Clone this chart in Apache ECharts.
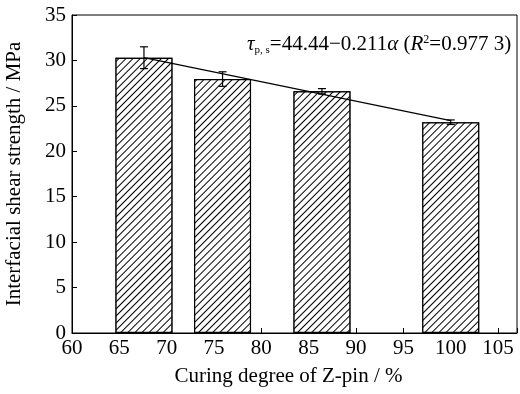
<!DOCTYPE html>
<html><head><meta charset="utf-8">
<script src="https://cdn.jsdelivr.net/npm/echarts@6/dist/echarts.min.js"></script>
<style>html,body{margin:0;padding:0;background:#fff}#c{width:520px;height:394px}</style>
</head><body><div id="c"></div>
<script>
const curing = [67.6, 75.9, 86.4, 100];
const strength = [30.3, 27.95, 26.6, 23.2];
const errors = [1.2, 0.8, 0.3, 0.25];
const fitX = [67.6, 100];
const fitY = [30.3, 23.37];
const xTicks = [60, 65, 70, 75, 80, 85, 90, 95, 100, 105];
const yTicks = [0, 5, 10, 15, 20, 25, 30, 35];

const font = 'Liberation Serif';
const chart = echarts.init(document.getElementById('c'));
const barData = curing.map((x, i) => [x, strength[i]]);
const errData = curing.map((x, i) => [x, strength[i] - errors[i], strength[i] + errors[i]]);
const fitData = fitX.map((x, i) => [x, fitY[i]]);

chart.setOption({
  animation: false,
  grid: {left: 72, right: 3, top: 15, bottom: 61, show: true, borderColor: '#000', borderWidth: 1,
    containLabel: false, outerBoundsMode: 'none'},
  xAxis: {
    type: 'value', min: 60, max: 107, interval: 5,
    name: 'Curing degree of Z-pin / %', nameLocation: 'middle', nameGap: 33,
    nameTextStyle: {fontFamily: font, fontSize: 21, color: '#000', padding: [0, 12, 0, 0]},
    axisLine: {lineStyle: {color: '#000'}},
    axisTick: {inside: true, length: 5, lineStyle: {color: '#000'}},
    axisLabel: {fontFamily: font, fontSize: 21, color: '#000', margin: 5,
      formatter: v => xTicks.includes(v) ? String(v) : ''},
    splitLine: {show: false}
  },
  yAxis: {
    type: 'value', min: 0, max: 35, interval: 5,
    name: 'Interfacial shear strength / MPa', nameLocation: 'middle', nameGap: 47,
    nameTextStyle: {fontFamily: font, fontSize: 21, color: '#000'},
    axisLine: {lineStyle: {color: '#000'}},
    axisTick: {inside: true, length: 5, lineStyle: {color: '#000'}},
    axisLabel: {fontFamily: font, fontSize: 21, color: '#000', margin: 6,
      formatter: v => yTicks.includes(v) ? String(v) : ''},
    splitLine: {show: false}
  },
  series: [
    {
      type: 'bar', data: barData, barWidth: 57,
      itemStyle: {color: '#fff', borderColor: '#000', borderWidth: 1.2,
        decal: {symbol: 'rect', symbolSize: 1, color: '#000', backgroundColor: '#fff',
          dashArrayX: [1, 0], dashArrayY: [1, 4], rotation: -Math.PI / 4}}
    },
    {
      type: 'line', data: fitData, showSymbol: false, symbol: 'none',
      lineStyle: {color: '#000', width: 1.2}, z: 5
    },
    {
      type: 'custom', data: errData, z: 6,
      renderItem: function (params, api) {
        const x = api.value(0);
        const lo = api.coord([x, api.value(1)]);
        const hi = api.coord([x, api.value(2)]);
        const hw = 4;
        const st = {stroke: '#000', lineWidth: 1.2};
        return {type: 'group', children: [
          {type: 'line', shape: {x1: lo[0], y1: lo[1], x2: hi[0], y2: hi[1]}, style: st},
          {type: 'line', shape: {x1: lo[0] - hw, y1: lo[1], x2: lo[0] + hw, y2: lo[1]}, style: st},
          {type: 'line', shape: {x1: hi[0] - hw, y1: hi[1], x2: hi[0] + hw, y2: hi[1]}, style: st}
        ]};
      }
    }
  ],
  graphic: [{
    type: 'text', left: 247, top: 34, z: 10,
    style: {
      text: '{i|τ}{sub|p, s}{n|=44.44−0.211}{i|α}{n| (}{i|R}{sup|2}{n|=0.977 3)}',
      rich: {
        i: {fontFamily: font, fontSize: 21, fontStyle: 'italic', fill: '#000', color: '#000'},
        n: {fontFamily: font, fontSize: 21, fill: '#000', color: '#000'},
        sub: {fontFamily: font, fontSize: 11, fill: '#000', color: '#000', padding: [12, 0, 0, 0]},
        sup: {fontFamily: font, fontSize: 12, fill: '#000', color: '#000', padding: [0, 0, 9, 0]}
      }
    }
  }]
});
</script></body></html>
